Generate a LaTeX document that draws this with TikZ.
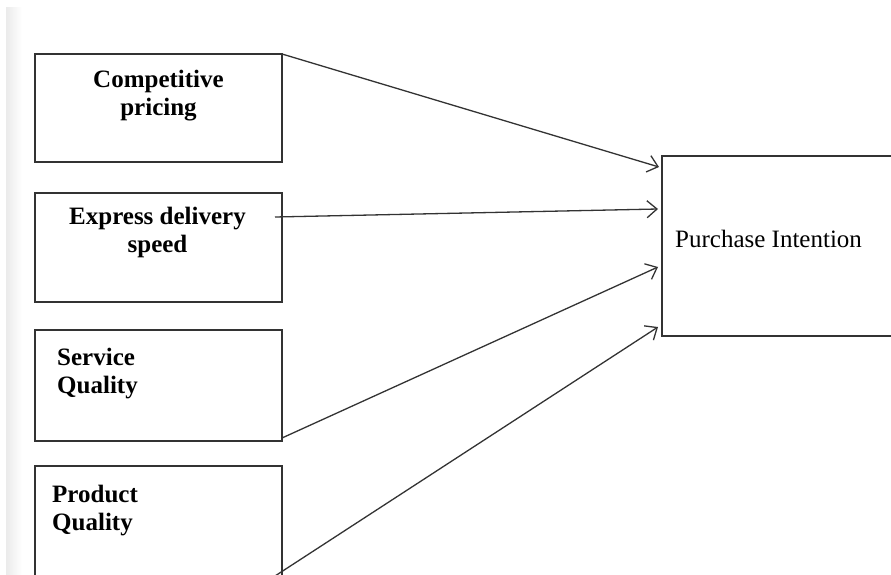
\documentclass[tikz,border=0pt]{standalone}
\usepackage{fontspec}
\setmainfont{Liberation Serif}
\usetikzlibrary{positioning, arrows.meta}

\begin{document}
\begin{tikzpicture}[
    x=1pt, y=-1pt,
    >={Straight Barb[length=10pt,width=17pt]},
    node distance=31pt,
    factor/.style={rectangle, draw=black!80, line width=1.4pt, minimum width=247pt, minimum height=108pt, inner sep=0pt, outer sep=0pt},
    outcome/.style={rectangle, draw=black!80, line width=1.4pt, minimum width=240pt, minimum height=180pt, inner sep=0pt, outer sep=0pt, anchor=north west},
    factortext/.style={font=\fontsize{25}{28}\selectfont\bfseries, inner sep=0pt},
    outcometext/.style={font=\fontsize{25}{28}\selectfont, inner sep=0pt},
    link/.style={->, draw=black!80, line width=1.3pt}
  ]

  % --- FRAME ---
  \path[use as bounding box] (0,0) rectangle (891,575);
  \clip (0,0) rectangle (891,575);
  \shade[left color=black!8, right color=white] (6,8) rectangle (22,575);

  % --- BOXES ---
  \node[factor] (price) at (158.5,108) {};
  \node[factor, below=of price, minimum height=109pt] (delivery) {};
  \node[factor, below=28pt of delivery, minimum height=111pt] (service) {};
  \node[factor, below=25pt of service, minimum height=130pt] (product) {};
  \node[outcome] (intention) at (662,156) {};

  % --- TEXTS ---
  \node[factortext, align=center, anchor=north] (pricetext) at ([yshift=-16pt]price.north) {Competitive\\pricing};
  \node[factortext, align=center, anchor=north] (deliverytext) at ([xshift=-1pt,yshift=-14pt]delivery.north) {Express delivery\\speed};
  \node[factortext, align=left, anchor=north west] (servicetext) at ([xshift=22pt,yshift=-18pt]service.north west) {Service\\Quality};
  \node[factortext, align=left, anchor=north west] (producttext) at ([xshift=17pt,yshift=-19pt]product.north west) {Product\\Quality};
  \node[outcometext, anchor=base west] (intentiontext) at ([xshift=13pt,yshift=-91pt]intention.north west) {Purchase Intention};

  % --- ARROWS ---
  \draw[link] (price.north east) -- ([xshift=-3pt,yshift=-11pt]intention.north west);
  \draw[link] ([xshift=-7pt,yshift=-24pt]delivery.north east) -- ([xshift=-4pt,yshift=-53pt]intention.north west);
  \draw[link] ([yshift=3pt]service.south east) -- ([xshift=-4pt,yshift=-111pt]intention.north west);
  \draw[link] ([xshift=-7pt,yshift=-110pt]product.north east) -- ([xshift=-4pt,yshift=-171pt]intention.north west);

\end{tikzpicture}
\end{document}
